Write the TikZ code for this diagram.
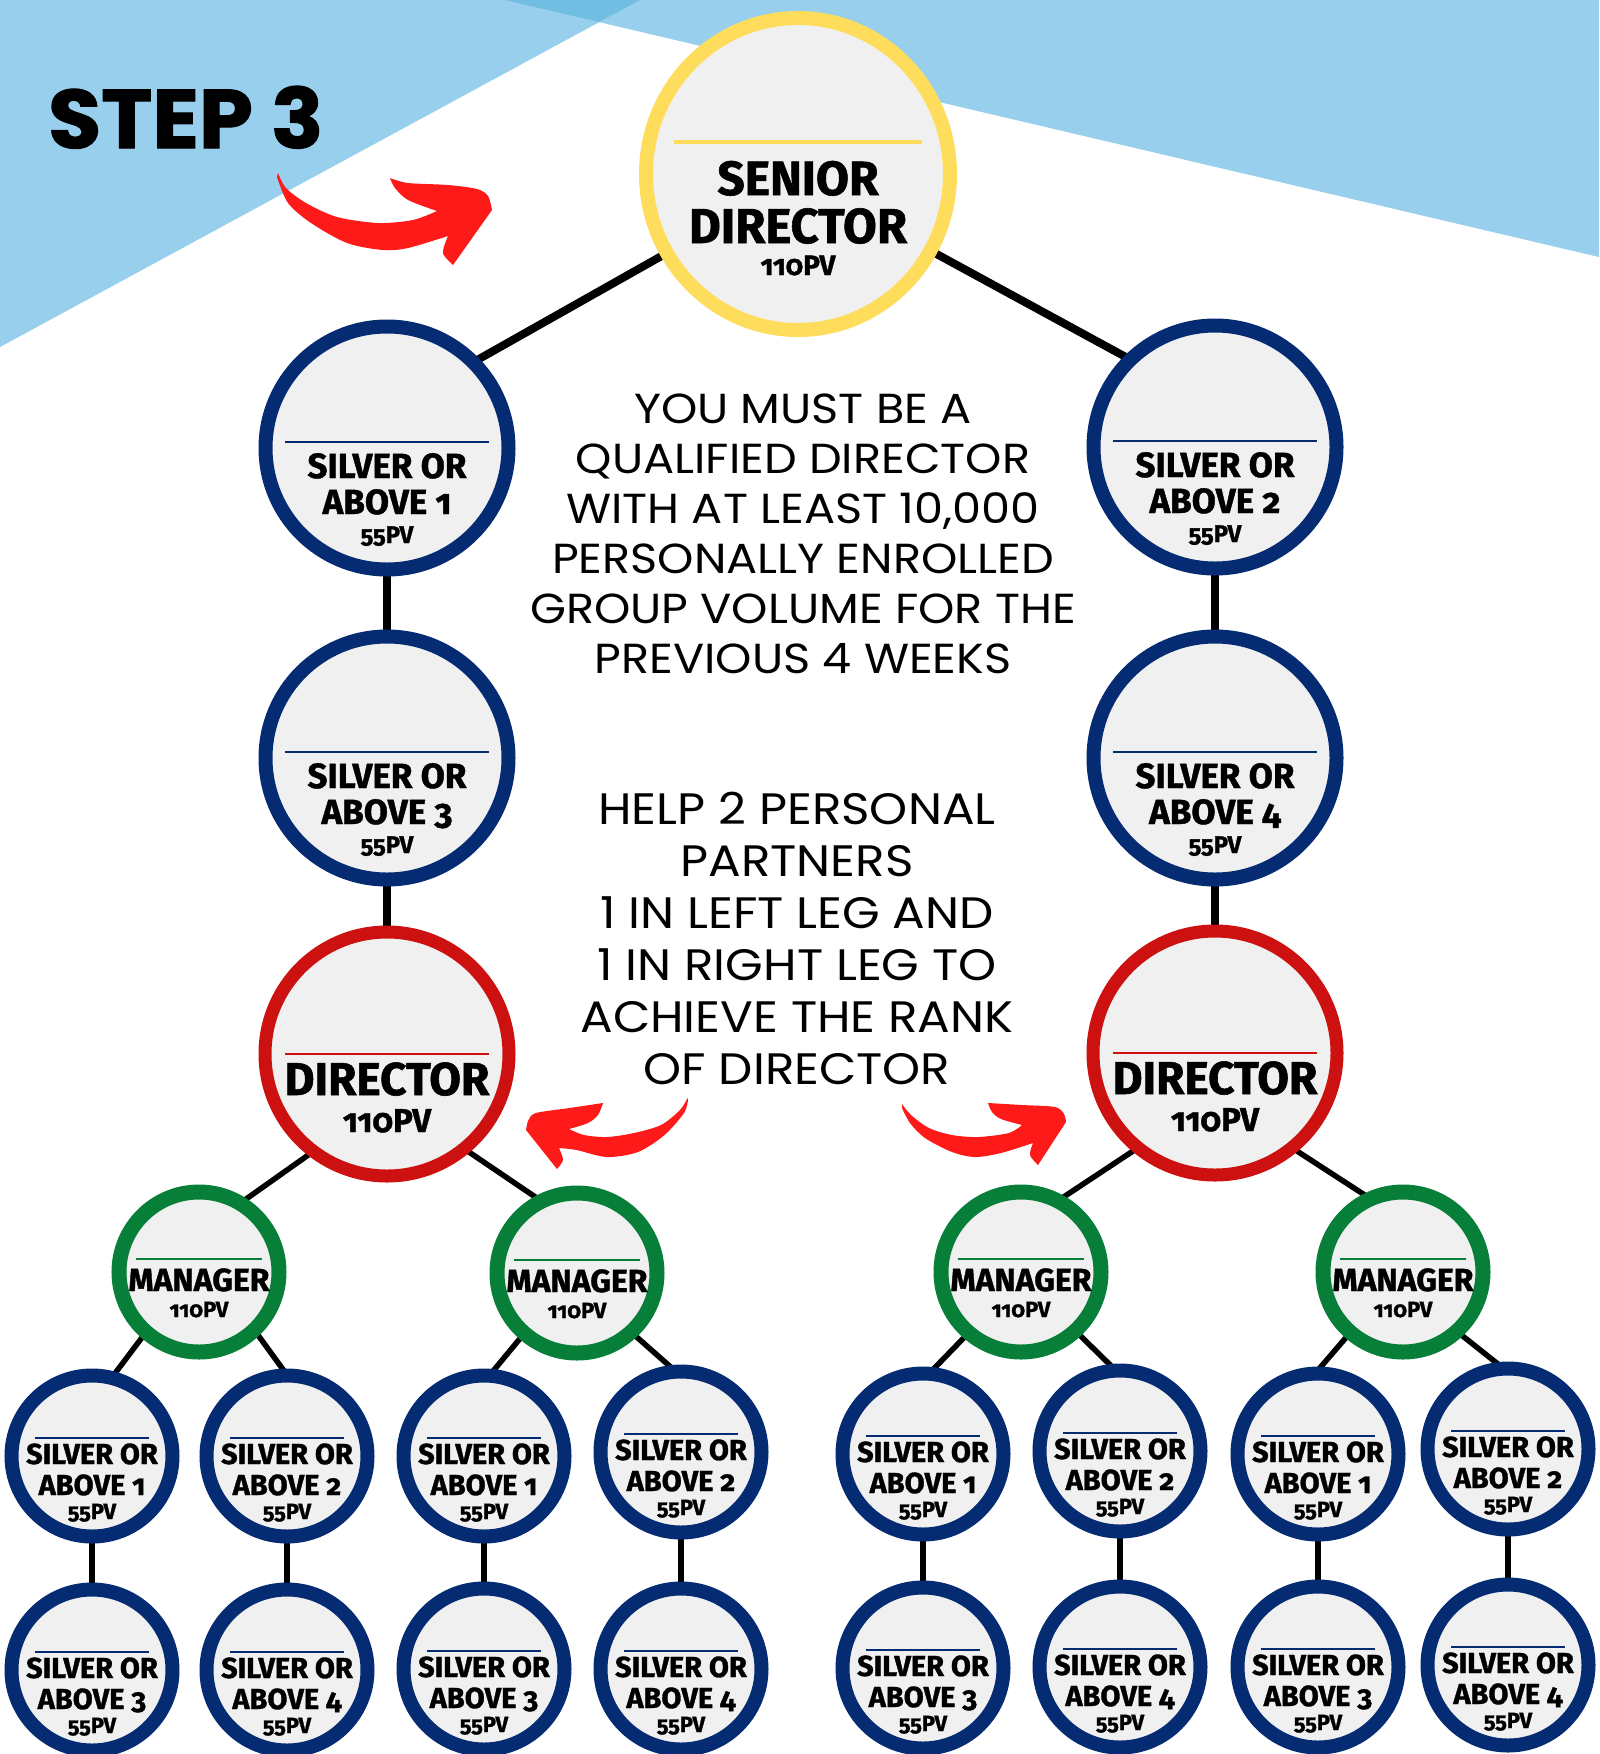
\documentclass[tikz,border=0pt]{standalone}
\usepackage{fontspec}
\setmainfont{Poppins}
\newfontfamily\labfont{Fira Sans}[Numbers=OldStyle, BoldFeatures={FakeBold=1.2}]
\newfontfamily\bodyfont{Poppins}[FakeStretch=1.1]
\newfontfamily\stepfont{Poppins}[FakeStretch=1.04, BoldFeatures={FakeBold=1.5}]
\usetikzlibrary{calc,shapes.geometric,backgrounds}
\definecolor{sky}{HTML}{97CFEC}
\definecolor{skydark}{HTML}{72BEE3}
\definecolor{navy}{HTML}{052B73}
\definecolor{dirred}{HTML}{CD1111}
\definecolor{mgreen}{HTML}{077F38}
\definecolor{gold}{HTML}{FFDD5C}
\definecolor{cfill}{HTML}{F0F0F0}
\definecolor{arrred}{HTML}{FF1A1A}
\newcommand\lf[1]{\labfont\bfseries\fontsize{#1}{#1}\selectfont}
\tikzset{
  basering/.style={circle, fill=cfill, inner sep=0pt},
  bigsilver/.style={basering, draw=navy, line width=14pt, minimum size=243pt},
  smallsilver/.style={basering, draw=navy, line width=14pt, minimum size=161pt},
  directornode/.style={basering, draw=dirred, line width=13pt, minimum size=244pt},
  managernode/.style={basering, draw=mgreen, line width=15pt, minimum size=160pt},
  seniornode/.style={ellipse, fill=cfill, inner sep=0pt, draw=gold, line width=14pt, minimum width=304pt, minimum height=312pt},
  lbl/.style={anchor=base, inner sep=0pt, text=black},
  sepline/.style={line width=2.5pt},
  conn/.style={line width=8pt, black, shorten <=-8pt, shorten >=-8pt},
  connthin/.style={line width=5.5pt, black, shorten <=-8pt, shorten >=-8pt},
  bodytexta/.style={anchor=base, inner sep=0pt, font=\bodyfont\fontsize{42}{42}\selectfont},
  bodytextb/.style={anchor=base, inner sep=0pt, font=\bodyfont\fontsize{44}{44}\selectfont},
}
\newcommand\bigsilv[3]{%
  \node[bigsilver] (#1) at (#2) {};
  \draw[sepline, navy] ($(#1.center)+(-102,-6)$) -- ($(#1.center)+(102,-6)$);
  \node[lbl, font=\lf{35}] (#1-a) at ($(#1.center)+(0,30)$) {SILVER OR};
  \node[lbl, font=\lf{35}] (#1-b) at ($(#1.center)+(0,66)$) {ABOVE #3};
  \node[lbl, font=\lf{24}] (#1-c) at ($(#1.center)+(0,95)$) {55PV};
}
\newcommand\smallsilv[3]{%
  \node[smallsilver] (#1) at (#2) {};
  \draw[sepline, navy] ($(#1.center)+(-57,-18)$) -- ($(#1.center)+(57,-18)$);
  \node[lbl, font=\lf{29}] (#1-a) at ($(#1.center)+(0,8)$) {SILVER OR};
  \node[lbl, font=\lf{29}] (#1-b) at ($(#1.center)+(0,39)$) {ABOVE #3};
  \node[lbl, font=\lf{22}] (#1-c) at ($(#1.center)+(0,63)$) {55PV};
}
\newcommand\directr[2]{%
  \node[directornode] (#1) at (#2) {};
  \draw[sepline, dirred] ($(#1.center)+(-102,0)$) -- ($(#1.center)+(102,0)$);
  \node[lbl, font=\lf{46}] (#1-a) at ($(#1.center)+(0,41)$) {DIRECTOR};
  \node[lbl, font=\lf{33}] (#1-b) at ($(#1.center)+(0,78)$) {110PV};
}
\newcommand\managr[2]{%
  \node[managernode] (#1) at (#2) {};
  \draw[sepline, mgreen] ($(#1.center)+(-63,-13)$) -- ($(#1.center)+(63,-13)$);
  \node[lbl, font=\lf{32}] (#1-a) at ($(#1.center)+(0,19)$) {MANAGER};
  \node[lbl, font=\lf{22}] (#1-b) at ($(#1.center)+(0,45)$) {110PV};
}
\begin{document}
\begin{tikzpicture}[x=1pt, y=-1pt]
\useasboundingbox (0,0) rectangle (1599,1754);
\begin{scope}[on background layer]
  \fill[white] (0,0) rectangle (1599,1754);
  \fill[sky] (0,0) -- (640,0) -- (0,347) -- cycle;
  \fill[sky] (505,0) -- (1599,0) -- (1599,257) -- cycle;
  \fill[skydark] (505,0) -- (640,0) -- (599,22) -- cycle;
\end{scope}

% title
\node[anchor=base west, inner sep=0pt, font=\stepfont\bfseries\fontsize{83}{83}\selectfont] (step) at (48,148) {STEP 3};

% senior director
\node[seniornode] (sd) at (798,174) {};
\draw[line width=4pt, gold] ($(sd.center)+(-124,-32)$) -- ($(sd.center)+(124,-32)$);
\node[lbl, font=\lf{48}] (sd-a) at ($(sd.center)+(0,21)$) {SENIOR};
\node[lbl, font=\lf{49}] (sd-b) at ($(sd.center)+(0,69)$) {DIRECTOR};
\node[lbl, font=\lf{28}] (sd-c) at ($(sd.center)+(0,101)$) {110PV};

% left and right legs
\bigsilv{l1}{387,448}{1}
\bigsilv{l3}{387,758}{3}
\bigsilv{r2}{1215,447}{2}
\bigsilv{r4}{1215,758}{4}
\directr{dl}{387,1054}
\directr{dr}{1215,1053}

% managers
\managr{m1}{199,1272}
\managr{m2}{577,1273}
\managr{m3}{1021,1272}
\managr{m4}{1403,1272}

% small silver nodes
\smallsilv{s1}{92,1456}{1}
\smallsilv{s2}{287,1456}{2}
\smallsilv{s3}{484,1456}{1}
\smallsilv{s4}{681,1452}{2}
\smallsilv{s5}{923,1454}{1}
\smallsilv{s6}{1120,1451}{2}
\smallsilv{s7}{1318,1454}{1}
\smallsilv{s8}{1508,1449}{2}
\smallsilv{t1}{92,1670}{3}
\smallsilv{t2}{287,1670}{4}
\smallsilv{t3}{484,1669}{3}
\smallsilv{t4}{681,1669}{4}
\smallsilv{t5}{923,1668}{3}
\smallsilv{t6}{1120,1667}{4}
\smallsilv{t7}{1318,1667}{3}
\smallsilv{t8}{1508,1665}{4}

% connectors
\begin{scope}[on background layer]
  \draw[conn] (sd.211) -- (l1.44);
  \draw[conn] (sd.330) -- (r2.135);
  \draw[conn] (l1.270) -- (l3.90);
  \draw[conn] (l3.270) -- (dl.90);
  \draw[conn] (r2.270) -- (r4.90);
  \draw[conn] (r4.270) -- (dr.90);
  \draw[connthin] (dl.232) -- (m1.57);
  \draw[connthin] (dl.310) -- (m2.119);
  \draw[connthin] (dr.230) -- (m3.60);
  \draw[connthin] (dr.310) -- (m4.117);
  \draw[connthin] (m1.229) -- (s1.74);
  \draw[connthin] (m1.313) -- (s2.93);
  \draw[connthin] (m2.229) -- (s3.83);
  \draw[connthin] (m2.313) -- (s4.98);
  \draw[connthin] (m3.229) -- (s5.82);
  \draw[connthin] (m3.313) -- (s6.97);
  \draw[connthin] (m4.229) -- (s7.88);
  \draw[connthin] (m4.313) -- (s8.98);
  \foreach \k in {1,...,8} \draw[connthin] (s\k.270) -- (t\k.90);
\end{scope}

% body text
\foreach \t [count=\i] in {YOU MUST BE A, QUALIFIED DIRECTOR, {WITH AT LEAST 10,000}, PERSONALLY ENROLLED, GROUP VOLUME FOR THE, PREVIOUS 4 WEEKS}
  \node[bodytexta] (ta\i) at (803,{423+50*(\i-1)}) {\t};
\foreach \t [count=\i] in {HELP 2 PERSONAL, PARTNERS, 1 IN LEFT LEG AND, 1 IN RIGHT LEG TO, ACHIEVE THE RANK, OF DIRECTOR}
  \node[bodytextb] (tb\i) at (797,{824+52*(\i-1)}) {\t};

% red arrows
\fill[arrred, shift={(278,173)}] plot[smooth] coordinates {(0,0) (8,15) (28,30) (59,44) (100,50) (135,47) (159,38)}
  -- plot[smooth] coordinates {(159,38) (130,27) (117,15) (112,5)}
  -- plot[smooth] coordinates {(112,5) (130,10) (170,12) (199,16) (210,23) (214,37)}
  -- (175,92)
  -- plot[smooth] coordinates {(175,92) (165,80) (170,63)}
  -- plot[smooth] coordinates {(170,63) (130,75) (105,77) (69,70) (33,50) (10,30) (-1,4)}
  -- cycle;
\fill[arrred, shift={(687.5,1098)}] plot[smooth] coordinates {(0,0) (-7.5,12) (-26.5,27) (-53.5,35) (-80.5,39) (-103.5,37) (-118.5,31)}
  -- plot[smooth] coordinates {(-118.5,31) (-99.5,25) (-89.5,17) (-84.5,5)}
  -- plot[smooth] coordinates {(-84.5,5) (-118,10) (-151.5,15) (-159,22) (-161.5,32)}
  -- (-130.5,71)
  -- plot[smooth] coordinates {(-130.5,71) (-124.5,62) (-128.5,50)}
  -- plot[smooth] coordinates {(-128.5,50) (-111,52) (-80.5,59) (-49.5,54) (-23,37) (-3.5,15) (0.5,2)}
  -- cycle;
\fill[arrred, shift={(902,1104)}] plot[smooth] coordinates {(0,0) (9,11) (27,24) (50,31) (76,33) (107,29) (120,21)}
  -- plot[smooth] coordinates {(120,21) (99,15) (90,8) (86,-1)}
  -- plot[smooth] coordinates {(86,-1) (120,1) (153,3) (162,10) (164,18)}
  -- (136,61)
  -- plot[smooth] coordinates {(136,61) (128,51) (131,39)}
  -- plot[smooth] coordinates {(131,39) (99,49) (73,53) (50,48) (23,34) (8,19) (0,4)}
  -- cycle;
\end{tikzpicture}
\end{document}
